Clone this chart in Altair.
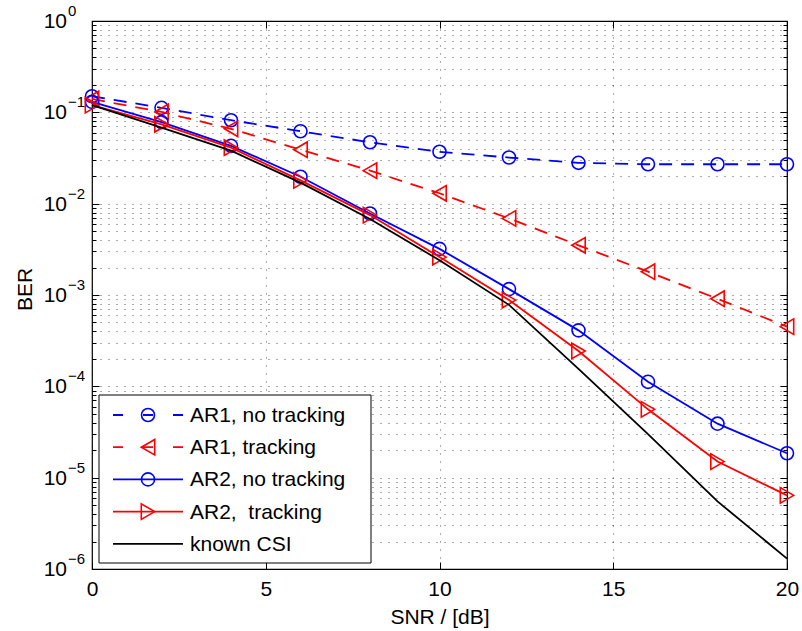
import altair as alt
import pandas as pd

# SNR grid (dB) and bit error rates for each receiver configuration
snr = [0, 2, 4, 6, 8, 10, 12, 14, 16, 18, 20]
ber_ar1_no_tracking = [0.15, 0.112, 0.082, 0.062, 0.047, 0.037, 0.032, 0.028, 0.027, 0.027, 0.027]
ber_ar1_tracking = [0.14, 0.101, 0.066, 0.039, 0.023, 0.013, 0.0069, 0.0035, 0.0018, 0.00091, 0.00045]
ber_ar2_no_tracking = [0.13, 0.078, 0.043, 0.0197, 0.0078, 0.0032, 0.00116, 0.00041, 0.000112, 3.9e-5, 1.85e-5]
ber_ar2_tracking = [0.12, 0.074, 0.041, 0.018, 0.0075, 0.0026, 0.00088, 0.000244, 5.6e-5, 1.5e-5, 6.4e-6]
ber_known_csi = [0.12, 0.068, 0.038, 0.017, 0.0068, 0.0024, 0.00078, 0.000155, 3.0e-5, 5.5e-6, 1.3e-6]

series_names = ["AR1, no tracking", "AR1, tracking", "AR2, no tracking",
                "AR2,\u00a0 tracking", "known CSI"]
series_values = [ber_ar1_no_tracking, ber_ar1_tracking, ber_ar2_no_tracking,
                 ber_ar2_tracking, ber_known_csi]

# drawing style per series: colour, dash pattern, marker shape
series_style = [
    ("#0000ff", [13, 9], "circle"),
    ("#ff0000", [13, 9], "triangle-left"),
    ("#0000ff", None, "circle"),
    ("#ff0000", None, "triangle-right"),
    ("#000000", None, None),
]

W, H = 695, 548
FONT = "Liberation Sans"
FS = 21

rows = []
for name, vals in zip(series_names, series_values):
    for s, b in zip(snr, vals):
        rows.append({"series": name, "snr": s, "ber": b})
df = pd.DataFrame(rows)

xs = alt.Scale(domain=[0, 20], nice=False, zero=False)
ys = alt.Scale(type="log", domain=[1e-6, 1], nice=False)

x_major = [0, 5, 10, 15, 20]
decades = [10.0 ** k for k in range(-6, 1)]
minor = [m * 10.0 ** k for k in range(-6, 0) for m in range(2, 10)]

grid_style = dict(grid=True, gridColor="black", gridDash=[1, 7],
                  gridOpacity=0.65, gridWidth=1)


def holder(xaxis, yaxis):
    """Invisible layer that only carries an axis definition."""
    return alt.Chart(df).mark_point(opacity=0).encode(
        x=alt.X("snr:Q", scale=xs, axis=xaxis),
        y=alt.Y("ber:Q", scale=ys, axis=yaxis),
    )


def tick_axis(orient, offset, values, size):
    return alt.Axis(orient=orient, offset=offset, values=values, labels=False,
                    domain=False, grid=False, ticks=True, tickSize=size,
                    tickColor="black", tickWidth=1, title=None)


layers = []

# main axes: grid, x labels and both titles
layers.append(holder(
    alt.Axis(orient="bottom", values=x_major, format="d", ticks=False,
             domain=False, labelFontSize=FS, labelPadding=9, labelColor="black",
             labelFlush=False, labelFont=FONT, title="SNR / [dB]",
             titleFontSize=FS, titleFontWeight="normal", titleColor="black",
             titleFont=FONT, titlePadding=7, **grid_style),
    alt.Axis(orient="left", values=decades + minor, labels=False, ticks=False,
             domain=False, title="BER", titleFontSize=FS,
             titleFontWeight="normal", titleColor="black", titleFont=FONT,
             titleX=-61, titleY=268, titleBaseline="alphabetic",
             titleAlign="center", titleAngle=-90, **grid_style),
))

# inward tick marks on all four sides of the box
layers.append(holder(tick_axis("top", -H, x_major, 7), tick_axis("right", -W, decades, 7)))
layers.append(holder(tick_axis("bottom", -H, x_major, 7), tick_axis("right", -W, minor, 4)))
layers.append(holder(None, tick_axis("left", -W, decades, 7)))
layers.append(holder(None, tick_axis("left", -W, minor, 4)))

# y tick labels as 10 with a raised exponent
exp_df = pd.DataFrame({
    "ber": decades,
    "exp": ["\u2212" + str(-k) if k < 0 else "0" for k in range(-6, 1)],
})
layers.append(alt.Chart(exp_df).mark_text(
    align="right", baseline="middle", fontSize=FS, color="black", font=FONT, dy=1
).encode(x=alt.value(-25), y=alt.Y("ber:Q", scale=ys, axis=None), text=alt.value("10")))
layers.append(alt.Chart(exp_df).mark_text(
    align="left", baseline="middle", fontSize=15, color="black", font=FONT, dy=-10
).encode(x=alt.value(-24), y=alt.Y("ber:Q", scale=ys, axis=None), text="exp:N"))

# data series
for name, (color, dash, shape) in zip(series_names, series_style):
    base = alt.Chart(df).transform_filter(alt.datum.series == name)
    line_kw = dict(color=color, strokeWidth=1.8)
    if dash:
        line_kw["strokeDash"] = dash
    layers.append(base.mark_line(**line_kw).encode(
        x=alt.X("snr:Q", scale=xs, axis=None),
        y=alt.Y("ber:Q", scale=ys, axis=None),
    ))
    if shape:
        size = 170 if shape == "circle" else 240
        layers.append(base.mark_point(
            shape=shape, filled=False, color=color, size=size, strokeWidth=1.6,
            opacity=1
        ).encode(
            x=alt.X("snr:Q", scale=xs, axis=None),
            y=alt.Y("ber:Q", scale=ys, axis=None),
        ))

# legend box in the lower left corner
legend_df = pd.DataFrame({"label": series_names, "row": list(range(len(series_names)))})
layers.append(alt.Chart(legend_df).transform_filter(alt.datum.row == 0).mark_rect(
    fill="white", stroke="black", strokeWidth=1
).encode(x=alt.value(7), x2=alt.value(279), y=alt.value(374), y2=alt.value(542)))

for i, (name, (color, dash, shape)) in enumerate(zip(series_names, series_style)):
    ly = 394 + 32.2 * i
    row = alt.Chart(legend_df).transform_filter(alt.datum.row == i)
    rule_kw = dict(color=color, strokeWidth=1.8)
    if dash:
        rule_kw["strokeDash"] = [10, 20]
    layers.append(row.mark_rule(**rule_kw).encode(
        x=alt.value(21), x2=alt.value(91), y=alt.value(ly)))
    if shape:
        size = 170 if shape == "circle" else 240
        layers.append(row.mark_point(
            shape=shape, filled=False, color=color, size=size, strokeWidth=1.6,
            opacity=1
        ).encode(x=alt.value(56), y=alt.value(ly)))
    layers.append(row.mark_text(
        align="left", baseline="middle", fontSize=FS, color="black", font=FONT
    ).encode(x=alt.value(98), y=alt.value(ly + 1), text="label:N"))

chart = alt.layer(*layers).resolve_axis(x="independent", y="independent").properties(
    width=W, height=H,
    padding={"left": 92, "top": 21, "right": 15, "bottom": 62},
    autosize=alt.AutoSizeParams(type="none"),
).configure(font=FONT).configure_view(stroke="black", strokeWidth=1.2)

chart.save("out.html", embed_options={"renderer": "svg", "actions": False})
